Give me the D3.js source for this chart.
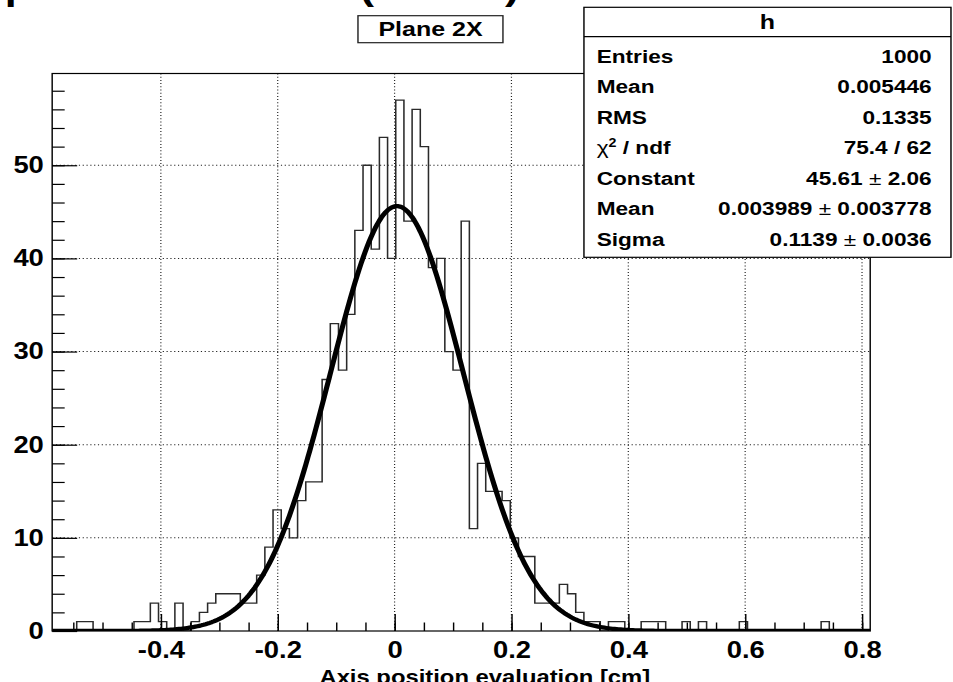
<!DOCTYPE html>
<html>
<head>
<meta charset="utf-8">
<script src="https://cdn.jsdelivr.net/npm/d3@7"></script>
<style>
  html, body { margin: 0; padding: 0; background: #ffffff; }
  svg { display: block; }
  text { font-family: "Liberation Sans", Arial, Helvetica, sans-serif; font-weight: bold; fill: #000; }
</style>
</head>
<body>
<svg id="chart"></svg>
<script>
// ---- histogram "h": 100 equal bins ----
const binLow = -0.586;
const binHigh = 0.814;
const binCounts = [
  0, 0, 0, 1, 1, 0, 0, 0, 0, 0,
  1, 1, 3, 1, 0, 3, 0, 1, 2, 3,
  4, 4, 4, 3, 3, 6, 9, 13, 11, 10,
  14, 16, 16, 27, 33, 28, 34, 43, 50, 41,
  53, 40, 57, 44, 56, 52, 39, 40, 30, 28,
  44, 11, 18, 15, 15, 14, 10, 8, 8, 3,
  3, 3, 5, 4, 2, 1, 1, 0, 1, 1,
  0, 0, 1, 1, 1, 0, 0, 1, 0, 1,
  0, 0, 0, 0, 1, 0, 0, 0, 0, 0,
  0, 0, 0, 0, 1, 0, 0, 0, 0, 0
];

// ---- gaussian fit result ----
const fitConstant = 45.61;
const fitMean = 0.003989;
const fitSigma = 0.1139;

// ---- axes ----
const xTickValues = [-0.4, -0.2, 0, 0.2, 0.4, 0.6, 0.8];
const yTickValues = [0, 10, 20, 30, 40, 50];
const yMax = 59.85;

// ---- texts ----
const titleText = "Cluster position residual (shift X)";
const padLabel = "Plane 2X";
const xTitle = "Axis position evaluation [cm]";
const histName = "h";
const statNames = ["Entries", "Mean", "RMS", "chi2", "Constant", "Mean", "Sigma"];
const statValues = [["1000"], ["0.005446"], ["0.1335"], ["75.4 / 62"],
                    ["45.61", "2.06"], ["0.003989", "0.003778"], ["0.1139", "0.0036"]];

// drawing is done on an 800-unit-wide canvas, stretched to the window width
const W = 800, H = 682;
const svg = d3.select("#chart")
  .attr("width", 953).attr("height", 682)
  .attr("viewBox", `0 0 ${W} ${H}`)
  .attr("preserveAspectRatio", "none");

const frame = { left: 43.8, right: 730.5, top: 73.5, bottom: 631 };

const x = d3.scaleLinear().domain([binLow, binHigh]).range([frame.left, frame.right]);
const y = d3.scaleLinear().domain([0, yMax]).range([frame.bottom, frame.top]);

svg.append("defs").append("clipPath").attr("id", "frameClip")
  .append("rect")
  .attr("x", frame.left).attr("y", frame.top - 2)
  .attr("width", frame.right - frame.left).attr("height", frame.bottom - frame.top + 2);

// grid
const grid = svg.append("g").attr("stroke", "#222").attr("stroke-width", 1)
  .attr("stroke-dasharray", "1,2.2");
grid.selectAll("line.gx").data(xTickValues).join("line")
  .attr("x1", d => x(d)).attr("x2", d => x(d))
  .attr("y1", frame.top).attr("y2", frame.bottom);
grid.selectAll("line.gy").data(yTickValues.filter(d => d > 0)).join("line")
  .attr("x1", frame.left).attr("x2", frame.right)
  .attr("y1", d => y(d)).attr("y2", d => y(d));

// histogram outline
const binWidth = (binHigh - binLow) / binCounts.length;
const stepPts = [[x(binLow), y(0)]];
binCounts.forEach((c, i) => {
  stepPts.push([x(binLow + i * binWidth), y(c)]);
  stepPts.push([x(binLow + (i + 1) * binWidth), y(c)]);
});
stepPts.push([x(binHigh), y(0)]);
svg.append("path")
  .attr("clip-path", "url(#frameClip)")
  .attr("d", d3.line()(stepPts))
  .attr("fill", "none").attr("stroke", "#2a2a2a").attr("stroke-width", 1.3);

// fitted gaussian
const gauss = v => fitConstant * Math.exp(-0.5 * Math.pow((v - fitMean) / fitSigma, 2));
const fitX = d3.range(0, 401).map(i => binLow + (binHigh - binLow) * i / 400);
svg.append("path")
  .attr("clip-path", "url(#frameClip)")
  .attr("d", d3.line().x(v => x(v)).y(v => y(gauss(v)))(fitX))
  .attr("fill", "none").attr("stroke", "#000").attr("stroke-width", 4.3)
  .attr("stroke-linejoin", "round");

// frame
svg.append("rect")
  .attr("x", frame.left).attr("y", frame.top)
  .attr("width", frame.right - frame.left).attr("height", frame.bottom - frame.top)
  .attr("fill", "none").attr("stroke", "#000").attr("stroke-width", 1.2);

// x axis
const xMinor = d3.range(-0.55, 0.8001, 0.05).map(v => Math.round(v * 100) / 100);
const gxMinor = svg.append("g").attr("transform", `translate(0,${frame.bottom})`)
  .call(d3.axisBottom(x).tickValues(xMinor).tickSize(-8.5).tickSizeOuter(0).tickFormat(""));
gxMinor.select(".domain").remove();
const gx = svg.append("g").attr("transform", `translate(0,${frame.bottom})`)
  .call(d3.axisBottom(x).tickValues(xTickValues).tickSize(-17).tickSizeOuter(0)
        .tickPadding(10.5).tickFormat(d => String(d)));
gx.select(".domain").remove();
gx.attr("font-size", 23);

// y axis
const yMinor = d3.range(2, 59, 2);
const gyMinor = svg.append("g").attr("transform", `translate(${frame.left},0)`)
  .call(d3.axisLeft(y).tickValues(yMinor).tickSize(-10.5).tickSizeOuter(0).tickFormat(""));
gyMinor.select(".domain").remove();
const gy = svg.append("g").attr("transform", `translate(${frame.left},0)`)
  .call(d3.axisLeft(y).tickValues(yTickValues).tickSize(-21).tickSizeOuter(0)
        .tickPadding(7).tickFormat(d => String(d)));
gy.select(".domain").remove();
gy.attr("font-size", 23);
svg.selectAll(".tick line").attr("stroke", "#000").attr("stroke-width", 1.2);

// axis title
svg.append("text")
  .attr("x", 407).attr("y", 684.5)
  .attr("text-anchor", "middle").attr("font-size", 20)
  .text(xTitle);

// stats box
const box = { x: 490.2, y: 7.3, w: 308.1, h: 250, head: 36.7 };
svg.append("rect")
  .attr("x", box.x).attr("y", box.y).attr("width", box.w).attr("height", box.h)
  .attr("fill", "#fff").attr("stroke", "#000").attr("stroke-width", 1.2);
svg.append("line")
  .attr("x1", box.x).attr("x2", box.x + box.w)
  .attr("y1", box.head).attr("y2", box.head)
  .attr("stroke", "#000").attr("stroke-width", 1.2);
svg.append("text")
  .attr("x", box.x + box.w / 2).attr("y", 29)
  .attr("text-anchor", "middle").attr("font-size", 21)
  .text(histName);

const rowY = d3.scaleLinear().domain([0, statNames.length - 1]).range([56, 239]);
const statFont = 19;
statNames.forEach((name, i) => {
  const t = svg.append("text")
    .attr("x", 500.9).attr("y", rowY(i) + 0.36 * statFont)
    .attr("font-size", statFont);
  if (name === "chi2") {
    t.append("tspan").attr("font-weight", "normal").text("\u03C7");
    t.append("tspan").attr("font-size", 12).attr("dy", -7).text("2");
    t.append("tspan").attr("dy", 7).text(" / ndf");
  } else {
    t.text(name);
  }
  const v = svg.append("text")
    .attr("x", 782.1).attr("y", rowY(i) + 0.36 * statFont)
    .attr("text-anchor", "end").attr("font-size", statFont);
  const parts = statValues[i];
  v.append("tspan").text(parts[0]);
  if (parts.length > 1) {
    v.append("tspan").attr("font-weight", "normal").text(" \u00B1 ");
    v.append("tspan").text(parts[1]);
  }
});

// pad label
svg.append("rect")
  .attr("x", 300.5).attr("y", 15.7).attr("width", 121.7).attr("height", 27)
  .attr("fill", "#fff").attr("stroke", "#222").attr("stroke-width", 1.2);
svg.append("text")
  .attr("x", 361.4).attr("y", 36.5)
  .attr("text-anchor", "middle").attr("font-size", 21)
  .text(padLabel);

// histogram title, running off the top edge
const title = svg.append("text")
  .attr("x", 0).attr("y", 0).attr("font-size", 36)
  .text(titleText);
const parenPos = title.node().getStartPositionOfChar(titleText.indexOf("(")).x;
title.attr("x", 302 - parenPos);
</script>
</body>
</html>
